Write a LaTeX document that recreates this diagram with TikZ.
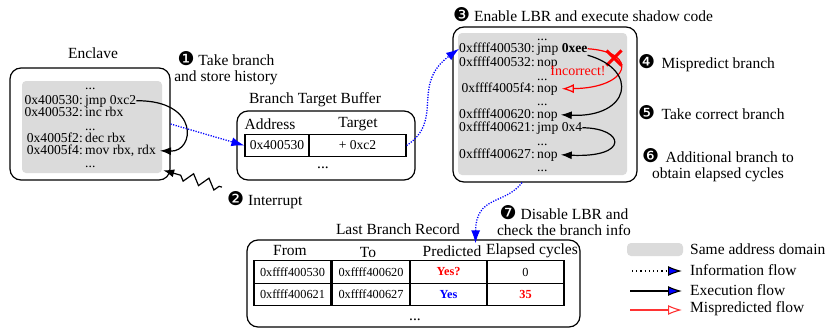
\documentclass[tikz,border=0pt]{standalone}
\usepackage{fontspec}
\setmainfont{Liberation Serif}
\newfontfamily\dingfont{DejaVu Sans}
\usetikzlibrary{positioning,arrows.meta,decorations.pathmorphing,shapes.misc}

\newcommand{\circnum}[1]{{\dingfont\fontsize{19}{15}\selectfont #1}}

\tikzset{
  box/.style={draw,line width=1.2pt,rounded corners=11pt},
  samedom/.style={fill=black!14,rounded corners=4pt},
  code/.style={font=\fontsize{13.6}{14}\selectfont,inner sep=0pt,text height=9.5pt,text depth=3pt},
  addr/.style={code,anchor=base east},
  instr/.style={code,anchor=base west},
  lbl/.style={font=\fontsize{15.5}{16}\selectfont,inner sep=0pt},
  cell/.style={draw,line width=1.2pt,inner sep=0pt,minimum height=22.5pt,font=\fontsize{12.3}{13}\selectfont},
  info/.style={blue,line width=1.3pt,dash pattern=on 1.2pt off 1.4pt,-{Latex[length=13pt,width=9pt]}},
  exec/.style={black,line width=1.2pt,-{Latex[length=11pt,width=8pt]}},
  mispred/.style={red,line width=1.2pt,-{Latex[open,length=12pt,width=9pt]}},
}

\begin{document}
\begin{tikzpicture}[x=1pt,y=-1pt]
  \useasboundingbox (0,0) rectangle (828,330);

  % Enclave
  \node[lbl] (enclbl) at (93,53) {Enclave};
  \node[box,minimum width=160pt,minimum height=112pt] (enclave) at (90,124) {};
  \node[samedom,minimum width=140pt,minimum height=92pt] (encdom) at (92,127) {};
  \node[instr] (ed1) at (85,89) {...};
  \node[addr] (ea1) at (83,104) {0x400530:};
  \node[instr] (ejmp) at (85,104) {jmp 0xc2};
  \node[addr] (ea2) at (83,116) {0x400532:};
  \node[instr] (einc) at (85,116) {inc rbx};
  \node[instr] (ed2) at (85,130) {...};
  \node[addr] (ea3) at (83,142) {0x4005f2:};
  \node[instr] (edec) at (85,142) {dec rbx};
  \node[addr] (ea4) at (83,154) {0x4005f4:};
  \node[instr] (emov) at (85,154) {mov rbx, rdx};
  \node[instr] (ed3) at (85,167) {...};

  \node[lbl,align=center] (step1) at (226,68) {\circnum{❶} Take branch\\and store history};
  \node[lbl,anchor=west] (step2) at (227,200) {\circnum{❷} Interrupt};

  % Branch Target Buffer
  \node[lbl] (btblbl) at (315,100) {Branch Target Buffer};
  \node[box,minimum width=178pt,minimum height=69pt] (btb) at (326,145.5) {};
  \node[lbl] (btbaddr) at (270,124) {Address};
  \node[lbl] (btbtgt) at (358,124) {Target};
  \node[cell,minimum width=64pt,font=\fontsize{13.6}{14}\selectfont] (addrcell) at (277,145.5) {0x400530};
  \node[cell,minimum width=97pt,font=\fontsize{13.6}{14}\selectfont] (tgtcell) at (357.5,145.5) {+ 0xc2};
  \node[lbl,anchor=base] (btbdots) at (323,168) {...};

  % shadow code
  \node[lbl,anchor=west] (step3) at (453,15) {\circnum{❸} Enable LBR and execute shadow code};
  \node[box,minimum width=184pt,minimum height=155pt] (shadow) at (545,104.5) {};
  \node[samedom,minimum width=169pt,minimum height=142pt] (shdom) at (542.5,104) {};
  \node[instr] (sd1) at (537,40) {...};
  \node[addr] (sa1) at (535,52) {0xffff400530:};
  \node[instr] (sjmp) at (537,52) {jmp \textbf{0xee}};
  \node[addr] (sa2) at (535,66) {0xffff400532:};
  \node[instr] (snop2) at (537,66) {nop};
  \node[instr] (sd2) at (537,80) {...};
  \node[addr] (sa3) at (535,92) {0xffff4005f4:};
  \node[instr] (snop3) at (537,92) {nop};
  \node[instr] (sd3) at (537,105) {...};
  \node[addr] (sa4) at (535,118) {0xffff400620:};
  \node[instr] (snop4) at (537,118) {nop};
  \node[addr] (sa5) at (535,131) {0xffff400621:};
  \node[instr] (sjmp2) at (537,131) {jmp 0x4};
  \node[instr] (sd4) at (537,145) {...};
  \node[addr] (sa6) at (535,158) {0xffff400627:};
  \node[instr] (snop6) at (537,158) {nop};
  \node[instr] (sd5) at (537,171) {...};

  \node[code,red,font=\fontsize{14}{15}\selectfont] (incorrect) at (578,72) {Incorrect!};
  \node[draw=red,cross out,line width=3pt,minimum size=12pt,inner sep=0pt] (xmark) at (614,58) {};

  \node[lbl,anchor=west] (step4) at (638,63) {\circnum{❹}\, Mispredict branch};
  \node[lbl,anchor=west] (step5) at (638,113) {\circnum{❺}\, Take correct branch};
  \node[lbl,align=center] (step6) at (718,165) {\circnum{❻}\, Additional branch to\\obtain elapsed cycles};

  % Last Branch Record
  \node[lbl] (lbrlbl) at (398,229) {Last Branch Record};
  \node[lbl,align=center] (step7) at (564,221) {\circnum{❼} Disable LBR and\\check the branch info};
  \node[box,minimum width=333pt,minimum height=87pt] (lbr) at (413.5,283.5) {};
  \node[lbl] (hfrom) at (290,250) {From};
  \node[lbl] (hto) at (368,252) {To};
  \node[lbl] (hpred) at (452,251) {Predicted};
  \node[lbl] (hcyc) at (532,251) {Elapsed cycles};
  \node[cell,minimum width=77pt] (from1) at (292.5,272) {0xffff400530};
  \node[cell,minimum width=78pt] (to1) at (371,272) {0xffff400620};
  \node[cell,minimum width=77pt] (pred1) at (448.5,272) {\textcolor{red}{\textbf{Yes?}}};
  \node[cell,minimum width=77pt] (cyc1) at (525.5,272) {0};
  \node[cell,minimum width=77pt] (from2) at (292.5,294.5) {0xffff400621};
  \node[cell,minimum width=78pt] (to2) at (371,294.5) {0xffff400627};
  \node[cell,minimum width=77pt] (pred2) at (448.5,294.5) {\textcolor{blue}{\textbf{Yes}}};
  \node[cell,minimum width=77pt] (cyc2) at (525.5,294.5) {\textcolor{red}{\textbf{35}}};
  \node[lbl,anchor=base] (lbrdots) at (415,320) {...};

  % flows
  \draw[exec] (ejmp.east) .. controls (200,100) and (195,152) .. ([xshift=4pt]emov.east);
  \draw[exec,decorate,decoration={zigzag,amplitude=5pt,segment length=16pt,pre length=3pt,post length=12pt}]
    ([xshift=-5pt,yshift=4pt]step2.north west) -- ([xshift=1pt,yshift=3pt]encdom.south east);
  \draw[info] (enclave.east) -- (addrcell.west);
  \draw[info] (tgtcell.east) .. controls (445,120) and (410,85) .. (sa1.west);
  \draw[mispred] (sjmp.east) .. controls (640,52) and (630,88) .. ([xshift=4pt]snop3.east);
  \draw[exec] (sjmp.south east) .. controls (640,70) and (630,118) .. ([xshift=3pt]snop4.east);
  \draw[exec] (sjmp2.east) .. controls (625,128) and (630,158) .. ([xshift=3pt]snop6.east);
  \draw[info] ([xshift=-23pt]shadow.south) .. controls (505,205) and (476,195) .. ([xshift=62pt,yshift=-4pt]lbr.north);

  % legend
  \node[samedom,minimum width=56pt,minimum height=13pt,inner sep=0pt] (legdom) at (655,249.5) {};
  \node[lbl,anchor=west] (legt1) at (690,249) {Same address domain};
  \node[lbl,anchor=west] (legt2) at (690,270) {Information flow};
  \node[lbl,anchor=west] (legt3) at (690,290) {Execution flow};
  \node[lbl,anchor=west] (legt4) at (690,309) {Mispredicted flow};
  \coordinate (leg2) at (632,271);
  \coordinate (leg3) at (630,291);
  \coordinate (leg4) at (630,310);
  \draw[line width=1.1pt,dash pattern=on 1.2pt off 3pt,-{Latex[length=14pt,width=10pt,fill=blue]},shorten >=8pt] (leg2) -- (legt2.west |- leg2);
  \draw[line width=1.1pt,-{Latex[length=14pt,width=10pt,fill=blue]},shorten >=8pt] (leg3) -- (legt3.west |- leg3);
  \draw[red!80,line width=1.1pt,-{Latex[open,length=14pt,width=10pt]},shorten >=8pt] (leg4) -- (legt4.west |- leg4);
\end{tikzpicture}
\end{document}
